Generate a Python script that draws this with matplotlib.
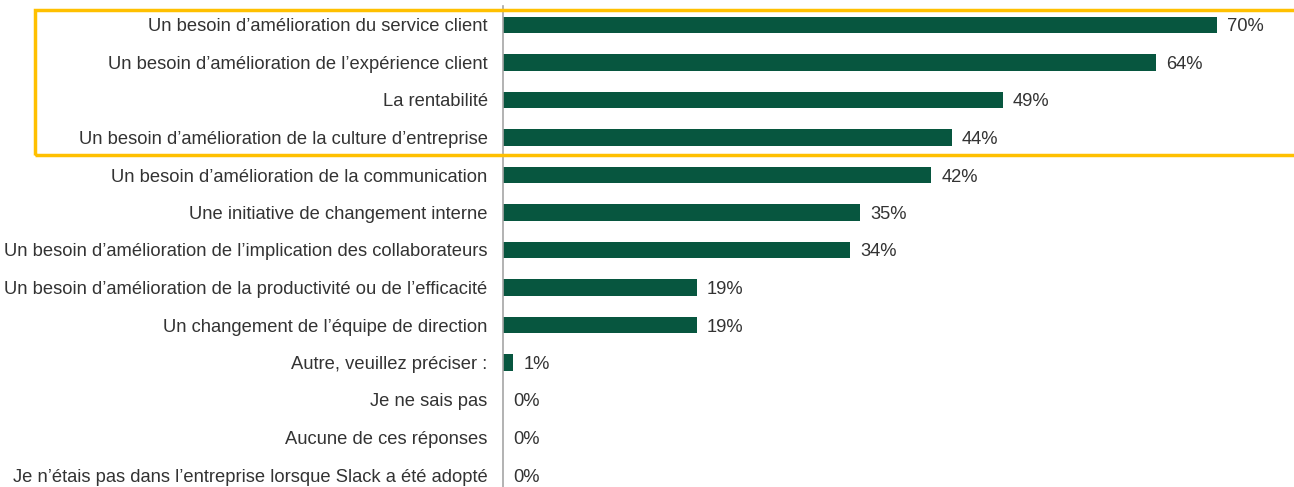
import matplotlib.pyplot as plt
from matplotlib.patches import Rectangle

plt.rcParams['font.family'] = ['Liberation Sans', 'DejaVu Sans']

# Réponses et pourcentages
labels = [
    "Un besoin d’amélioration du service client",
    "Un besoin d’amélioration de l’expérience client",
    "La rentabilité",
    "Un besoin d’amélioration de la culture d’entreprise",
    "Un besoin d’amélioration de la communication",
    "Une initiative de changement interne",
    "Un besoin d’amélioration de l’implication des collaborateurs",
    "Un besoin d’amélioration de la productivité ou de l’efficacité",
    "Un changement de l’équipe de direction",
    "Autre, veuillez préciser :",
    "Je ne sais pas",
    "Aucune de ces réponses",
    "Je n’étais pas dans l’entreprise lorsque Slack a été adopté",
]
values = [70, 64, 49, 44, 42, 35, 34, 19, 19, 1, 0, 0, 0]

W, H = 1294, 487
fig = plt.figure(figsize=(W / 100, H / 100), dpi=100)
# une ligne = 37.5 px, première ligne centrée à 25 px du haut
top_px, bottom_px = 6.25, 493.75
ax = fig.add_axes([503 / W, 1 - bottom_px / H, 1 - 503 / W, (bottom_px - top_px) / H])

y = list(range(len(labels)))
ax.barh(y, values, height=0.45, color='#07563F')

for yi, v in zip(y, values):
    ax.text(v + 1.0, yi, f"{v}%", va='center_baseline', ha='left',
            fontsize=13.2, color='#333333')

ax.set_xlim(0, (W - 503) / 10.2)
ax.set_ylim(12.5, -0.5)
ax.set_yticks(y)
ax.set_yticklabels(labels, fontsize=13.2, color='#333333')
ax.tick_params(axis='y', length=0, pad=11)
ax.set_xticks([])
for side in ['top', 'right', 'bottom']:
    ax.spines[side].set_visible(False)
ax.spines['left'].set_color('#A6A6A6')
ax.spines['left'].set_linewidth(1.2)

# cadre jaune autour des quatre premières réponses
box = Rectangle((35 / W, 1 - 155 / H), 1.05, (155 - 10) / H,
                transform=fig.transFigure, fill=False,
                edgecolor='#FFC000', linewidth=2.5, clip_on=False)
fig.patches.append(box)

fig.savefig('out.png', dpi=100)
